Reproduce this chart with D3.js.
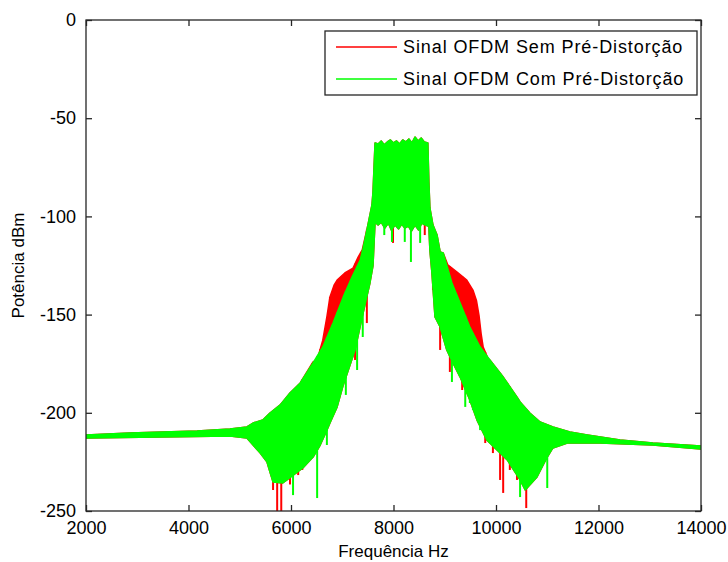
<!DOCTYPE html>
<html>
<head>
<meta charset="utf-8">
<script src="https://cdn.jsdelivr.net/npm/d3@7"></script>
<style>
  body { margin: 0; background: #fff; }
  svg text { font-family: "Liberation Sans", Arial, sans-serif; fill: #000; }
</style>
</head>
<body>
<div id="chart"></div>
<script>
// tick values
const xTicks = [2000, 4000, 6000, 8000, 10000, 12000, 14000];
const yTicks = [0, -50, -100, -150, -200, -250];
const seriesNames = ["Sinal OFDM Sem Pré-Distorção", "Sinal OFDM Com Pré-Distorção"];
const seriesColors = ["#ff0000", "#00ff00"];

// upper envelope of the green (with pre-distortion) spectrum [Hz, dBm]
const upperGreen = [
  [2000, -211.3], [2860, -210.3], [3500, -209.8], [4170, -209.3], [4810, -208.3],
  [5140, -207.2], [5260, -205.2], [5450, -203.7], [5590, -200.1], [5790, -196.0],
  [5980, -189.9], [6180, -184.8], [6430, -174.6], [6620, -166.5], [6820, -154.3],
  [7020, -141.0], [7190, -130.9], [7350, -122.2], [7400, -117.1], [7500, -104.4],
  [7580, -94.2], [7600, -87.6], [7620, -75.0], [7640, -62.6], [7700, -63.1],
  [7760, -61.6], [7820, -63.6], [7880, -62.1], [7940, -61.1], [8000, -62.6],
  [8060, -61.6], [8120, -63.1], [8180, -61.1], [8240, -62.1], [8300, -60.6],
  [8360, -62.6], [8420, -59.6], [8480, -61.6], [8540, -60.1], [8600, -62.1],
  [8670, -62.6], [8690, -82.5], [8710, -95.7], [8770, -104.4], [8850, -109.5],
  [8910, -118.1], [8970, -118.6], [9140, -133.9], [9300, -144.1], [9490, -156.3],
  [9690, -166.5], [9880, -173.1], [10140, -181.8], [10410, -192.0], [10470, -194.5],
  [10660, -200.1], [10860, -204.7], [11110, -207.2], [11440, -209.8], [11780, -211.3],
  [12420, -213.8], [13060, -215.4], [14000, -216.9]
];

// upper envelope of the red (without pre-distortion) spectrum, shoulders are higher
const upperRed = [
  [2000, -211.3], [2860, -210.3], [3500, -209.8], [4170, -209.3], [4810, -208.3],
  [5140, -207.2], [5260, -205.2], [5450, -203.7], [5590, -200.1], [5790, -196.0],
  [5980, -189.9], [6180, -184.8], [6430, -174.1], [6510, -173.1], [6620, -163.0],
  [6700, -151.2], [6760, -141.0], [6840, -135.0], [6900, -132.4], [7050, -128.8],
  [7210, -126.3], [7310, -120.7], [7390, -117.1], [7500, -104.4], [7580, -94.2],
  [7600, -87.6], [7620, -75.0], [7640, -62.6], [7700, -63.1], [7760, -61.6],
  [7820, -63.6], [7880, -62.1], [7940, -61.1], [8000, -62.6], [8060, -61.6],
  [8120, -63.1], [8180, -61.1], [8240, -62.1], [8300, -60.6], [8360, -62.6],
  [8420, -59.6], [8480, -61.6], [8540, -60.1], [8600, -62.1], [8670, -62.6],
  [8690, -82.5], [8710, -95.7], [8770, -104.4], [8850, -109.5], [8910, -118.1],
  [8970, -118.6], [9060, -124.7], [9240, -128.3], [9430, -132.4], [9550, -137.5],
  [9620, -143.0], [9670, -150.7], [9710, -159.8], [9750, -166.5], [9840, -172.1],
  [9880, -173.1], [10140, -181.8], [10410, -192.0], [10470, -194.5], [10660, -200.1],
  [10860, -204.7], [11110, -207.2], [11440, -209.8], [11780, -211.3], [12420, -213.8],
  [13060, -215.4], [14000, -216.9]
];

// lower envelope, shared by both spectra
const lowerBand = [
  [2000, -212.8], [4810, -211.8], [5140, -212.8], [5260, -216.4], [5400, -220.5],
  [5530, -225.0], [5590, -230.1], [5650, -235.2], [5840, -235.7], [5920, -234.2],
  [6230, -228.1], [6430, -222.5], [6570, -216.4], [6700, -208.8], [6760, -205.2],
  [6900, -197.0], [7020, -185.8], [7250, -168.0], [7390, -151.2], [7540, -133.9],
  [7600, -125.0], [7640, -102.9], [7700, -104.4], [7760, -102.9], [7830, -105.9],
  [7900, -103.4], [7960, -107.0], [8030, -104.4], [8100, -106.4], [8160, -103.9],
  [8220, -105.9], [8290, -104.9], [8350, -107.5], [8420, -104.4], [8490, -106.9],
  [8550, -103.4], [8620, -104.4], [8690, -105.0], [8710, -117.1], [8750, -128.8],
  [8810, -151.2], [8910, -156.3], [9040, -168.0], [9160, -174.6], [9300, -181.8],
  [9490, -193.5], [9630, -203.7], [9820, -213.8], [10020, -218.9], [10220, -224.0],
  [10470, -234.2], [10570, -239.3], [10800, -232.7], [11000, -222.5], [11110, -217.9],
  [11390, -215.4], [12030, -215.4], [13060, -216.4], [14000, -218.4]
];

// deep downward spikes [Hz, dBm]
const spikesRed = [
  [5650, -239.3], [5730, -252], [5810, -252], [5980, -236.5], [6140, -231.7],
  [6220, -229.1], [6410, -223.0], [6510, -215.4], [6570, -208.8], [6760, -197.0],
  [7250, -173.1], [7480, -154.3], [7990, -113.5], [8610, -109.5], [8770, -137.5],
  [8910, -168.0], [9100, -179.2], [9340, -188.4], [9790, -215.4], [9940, -220.5],
  [10080, -234.2], [10140, -240.8], [10270, -229.1], [10410, -234.2], [10590, -248.5]
];
const spikesGreen = [
  [6040, -241.9], [6510, -243.4], [6700, -216.4], [6800, -202.6], [6900, -193.5],
  [7070, -190.9], [7290, -178.2], [7400, -161.4], [7820, -109.5], [7970, -113.0],
  [8220, -113.0], [8340, -123.2], [8520, -113.5], [9140, -184.3], [9400, -197.0],
  [9490, -195.0], [9550, -198.6], [9690, -208.8], [10470, -242.9], [10800, -232.7],
  [11000, -238.3]
];

const W = 728, H = 562;
const plot = { left: 86, right: 701, top: 20, bottom: 511 };

const svg = d3.select("#chart").append("svg")
  .attr("width", W)
  .attr("height", H);

const x = d3.scaleLinear().domain([2000, 14000]).range([plot.left, plot.right]);
const y = d3.scaleLinear().domain([-250, 0]).range([plot.bottom, plot.top]);

svg.append("defs").append("clipPath").attr("id", "clip")
  .append("rect")
  .attr("x", plot.left).attr("y", plot.top)
  .attr("width", plot.right - plot.left)
  .attr("height", plot.bottom - plot.top);

const g = svg.append("g").attr("clip-path", "url(#clip)");

const line = d3.line().x(d => x(d[0])).y(d => y(d[1]));

// value of an envelope at a given frequency
const bis = d3.bisector(d => d[0]).left;
function envAt(arr, f) {
  let i = bis(arr, f);
  if (i <= 0) return arr[0][1];
  if (i >= arr.length) return arr[arr.length - 1][1];
  const a = arr[i - 1], b = arr[i];
  const t = (f - a[0]) / (b[0] - a[0]);
  return a[1] + t * (b[1] - a[1]);
}

function drawSeries(upper, spikes, color) {
  const band = upper.concat(lowerBand.slice().reverse());
  g.append("path")
    .attr("d", line(band) + "Z")
    .attr("fill", color)
    .attr("stroke", color)
    .attr("stroke-width", 1.5)
    .attr("stroke-linejoin", "round");

  g.append("g").selectAll("line")
    .data(spikes)
    .enter()
    .append("line")
    .attr("x1", d => x(d[0]))
    .attr("x2", d => x(d[0]))
    .attr("y1", d => y(d[1]))
    .attr("y2", d => y(envAt(upper, d[0])))
    .attr("stroke", color)
    .attr("stroke-width", 2);
}

drawSeries(upperRed, spikesRed, seriesColors[0]);
drawSeries(upperGreen, spikesGreen, seriesColors[1]);

// axes box and inward ticks on all four sides
const axisColor = "#262626";
const tickLen = 6;
const fmt = d => String(d);

svg.append("rect")
  .attr("x", plot.left).attr("y", plot.top)
  .attr("width", plot.right - plot.left)
  .attr("height", plot.bottom - plot.top)
  .attr("fill", "none")
  .attr("stroke", axisColor)
  .attr("stroke-width", 1.3);

const xAxisB = d3.axisBottom(x).tickValues(xTicks).tickFormat(fmt).tickSizeInner(-tickLen).tickSizeOuter(0).tickPadding(10);
const xAxisT = d3.axisTop(x).tickValues(xTicks).tickSizeInner(-tickLen).tickSizeOuter(0).tickFormat("");
const yAxisL = d3.axisLeft(y).tickValues(yTicks).tickFormat(fmt).tickSizeInner(-tickLen).tickSizeOuter(0).tickPadding(10);
const yAxisR = d3.axisRight(y).tickValues(yTicks).tickSizeInner(-tickLen).tickSizeOuter(0).tickFormat("");

function styleAxis(sel) {
  sel.select(".domain").remove();
  sel.selectAll(".tick line").attr("stroke", axisColor).attr("stroke-width", 1.3);
  sel.selectAll(".tick text").attr("font-size", 18).attr("fill", "#000");
}

svg.append("g").attr("transform", `translate(0,${plot.bottom})`).call(xAxisB).call(styleAxis);
svg.append("g").attr("transform", `translate(0,${plot.top})`).call(xAxisT).call(styleAxis);
svg.append("g").attr("transform", `translate(${plot.left},0)`).call(yAxisL).call(styleAxis);
svg.append("g").attr("transform", `translate(${plot.right},0)`).call(yAxisR).call(styleAxis);

// axis labels
svg.append("text")
  .attr("x", (plot.left + plot.right) / 2)
  .attr("y", 557)
  .attr("text-anchor", "middle")
  .attr("font-size", 17)
  .text("Frequência Hz");

svg.append("text")
  .attr("transform", `translate(24,${(plot.top + plot.bottom) / 2}) rotate(-90)`)
  .attr("text-anchor", "middle")
  .attr("font-size", 17)
  .text("Potência dBm");

// legend
const legend = svg.append("g");
legend.append("rect")
  .attr("x", 325).attr("y", 31)
  .attr("width", 372).attr("height", 64)
  .attr("fill", "#fff")
  .attr("stroke", axisColor)
  .attr("stroke-width", 1.3);

seriesNames.forEach((name, i) => {
  const ly = 47 + i * 32;
  legend.append("line")
    .attr("x1", 336).attr("x2", 397)
    .attr("y1", ly).attr("y2", ly)
    .attr("stroke", seriesColors[i])
    .attr("stroke-width", 1.5);
  legend.append("text")
    .attr("x", 403).attr("y", ly)
    .attr("dy", "0.36em")
    .attr("font-size", 18)
    .attr("letter-spacing", 0.9)
    .text(name);
});
</script>
</body>
</html>
